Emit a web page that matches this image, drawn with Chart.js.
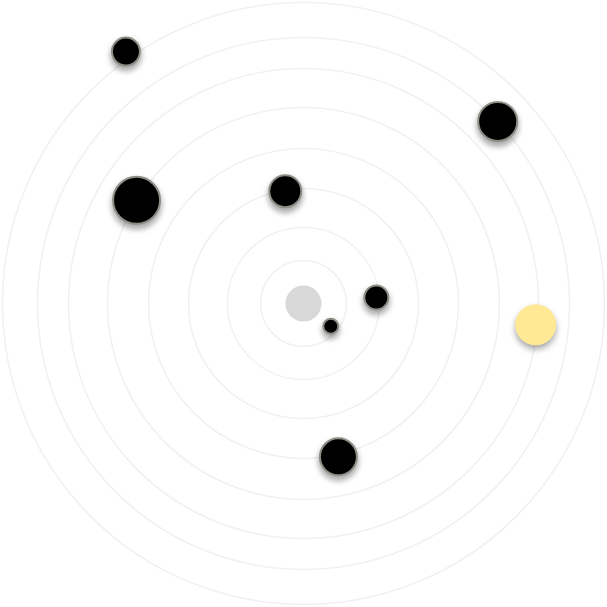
<!DOCTYPE html>
<html>
<head>
<meta charset="utf-8">
<script src="https://cdn.jsdelivr.net/npm/chart.js@4/dist/chart.umd.min.js"></script>
<style>
  html, body { margin: 0; padding: 0; background: #fff; }
  #wrap { width: 607px; height: 607px; }
</style>
</head>
<body>
<div id="wrap"><canvas id="orbitChart"></canvas></div>
<script>
// ring sizes (bubble radius, px)
const ringRadii = [43, 76, 115, 155, 196, 235, 266, 301];

// dark bubbles: position on a -100..100 grid, radius
const dotX = [-58.5, 64, -55, -6, 24, 9, 11.5];
const dotY = [83, 60, 34, 37, 2, -7.5, -50.5];
const dotR = [14, 19.5, 23.5, 16, 12, 7.5, 18.5];

// highlighted (yellow) bubble
const hiX = [76.5];
const hiY = [-7];
const hiR = [20.5];

// centre bubble
const centerX = [0];
const centerY = [0];
const centerR = [18];

function toPoints(xs, ys, rs) {
    return xs.map((x, i) => ({ x: x, y: ys[i], r: rs[i] }));
}

// soft drop shadow for datasets flagged with shadow: true
const shadowPlugin = {
    id: 'shadow',
    beforeDatasetDraw(chart, args) {
        const ds = chart.data.datasets[args.index];
        if (!ds.shadow) return;
        const ctx = chart.ctx;
        ctx.save();
        ctx.shadowColor = 'rgba(0, 0, 0, 0.35)';
        ctx.shadowBlur = 6;
        ctx.shadowOffsetX = 0;
        ctx.shadowOffsetY = 4;
    },
    afterDatasetDraw(chart, args) {
        const ds = chart.data.datasets[args.index];
        if (!ds.shadow) return;
        chart.ctx.restore();
    }
};

const ctx = document.getElementById('orbitChart').getContext('2d');
const orbitChart = new Chart(ctx, {
    type: 'bubble',
    data: {
        datasets: [
            {
                label: 'Rings',
                data: ringRadii.map(r => ({ x: 0, y: 0, r: r })),
                backgroundColor: 'rgba(0,0,0,0)',
                borderColor: '#f1f1f1',
                borderWidth: 1.6,
                clip: false,
                order: 4
            },
            {
                label: 'Centre',
                data: toPoints(centerX, centerY, centerR),
                backgroundColor: '#d8d8d8',
                borderWidth: 0,
                clip: false,
                order: 3
            },
            {
                label: 'Dots',
                data: toPoints(dotX, dotY, dotR),
                backgroundColor: '#000000',
                borderColor: '#8e8e86',
                borderWidth: 2,
                shadow: true,
                clip: false,
                order: 2
            },
            {
                label: 'Highlight',
                data: toPoints(hiX, hiY, hiR),
                backgroundColor: '#ffe995',
                borderWidth: 0,
                shadow: true,
                clip: false,
                order: 1
            }
        ]
    },
    options: {
        responsive: true,
        maintainAspectRatio: false,
        animation: false,
        layout: { padding: 0, autoPadding: false },
        plugins: {
            legend: { display: false },
            tooltip: { enabled: false }
        },
        scales: {
            x: { type: 'linear', min: -100, max: 100, display: false },
            y: { type: 'linear', min: -100, max: 100, display: false }
        }
    },
    plugins: [shadowPlugin]
});
</script>
</body>
</html>
